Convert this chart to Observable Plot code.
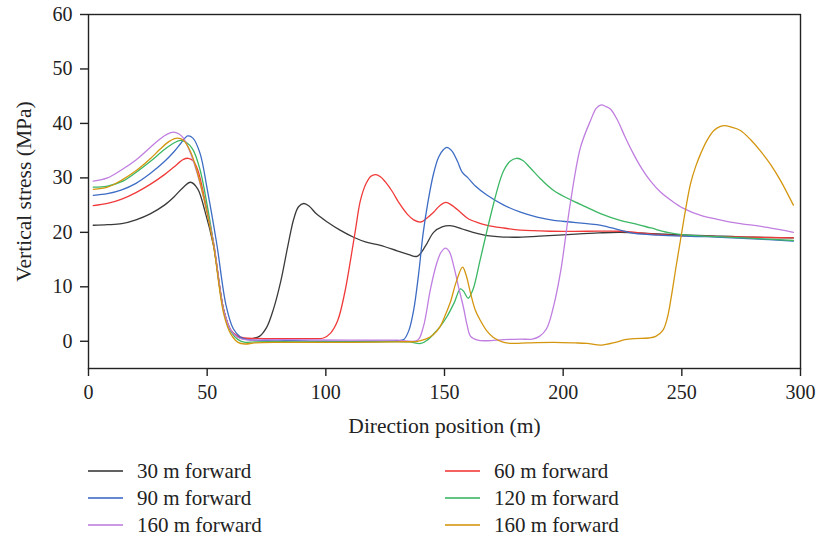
<!DOCTYPE html>
<html>
<head>
<meta charset="utf-8">
<script src="https://cdn.jsdelivr.net/npm/d3@7"></script>
<script src="https://cdn.jsdelivr.net/npm/@observablehq/plot@0.6"></script>
<style>
  body { margin: 0; background: #fff; }
  #wrap { position: relative; width: 818px; height: 540px; font-family: "Liberation Serif", serif; }
  .leg { position: absolute; display: flex; align-items: center; font-size: 21px; color: #222; height: 26px; white-space: nowrap; }
  .sw { width: 35px; height: 0; border-top: 2px solid; margin-right: 14px; }
</style>
</head>
<body>
<div id="wrap"></div>
<script>
const seriesKeys = ["s30", "s60", "s90", "s120", "s160a", "s160b"];
const seriesLabels = ["30 m forward", "60 m forward", "90 m forward", "120 m forward", "160 m forward", "160 m forward"];
const seriesColors = ["#3a3a3a", "#f03a3a", "#3d6cc4", "#3cb764", "#c07ee0", "#d4960f"];
const xTicks = [0, 50, 100, 150, 200, 250, 300];
const yTicks = [0, 10, 20, 30, 40, 50, 60];

const s30 = [[2,21.3],[8,21.4],[14,21.6],[20,22.3],[26,23.4],[32,25],[36,26.5],[40,28.3],[43,29.2],[46,28],[49,24],[52.7,17.5],[57,5.7],[60,2],[63,0.8],[66,0.4],[69,0.5],[72,0.9],[75,2.5],[78,6],[81,11],[84,17.5],[86.5,22.5],[88.5,24.7],[90.7,25.3],[93,24.8],[96,23.4],[100.6,21.9],[106,20.4],[111.7,19.1],[117,18.2],[123,17.6],[130,16.6],[135,15.9],[138.5,15.6],[142,17.5],[145.4,20],[149,21],[153,21.2],[157,20.7],[162,20],[168,19.4],[179,19.1],[190,19.3],[202,19.6],[215,19.9],[224,20],[240,19.7],[260,19.4],[280,19.1],[297,19.0]];

const s60 = [[2,24.9],[8,25.3],[14,26.1],[20,27.3],[26,28.8],[32,30.6],[36,32],[40,33.4],[42,33.6],[44,33.2],[46,31.5],[49,26],[52.7,18],[57,5.7],[60,2],[63,0.9],[66,0.6],[80,0.5],[95,0.5],[99,0.6],[102,1.5],[105,3.8],[108,9],[110.4,14.9],[112.5,20.5],[114.6,25.9],[117,29],[119,30.3],[121,30.6],[123,30.2],[125,29.3],[128,27.5],[131,25.3],[134.4,23.3],[137,22.3],[140,21.9],[142.5,22.6],[145.4,23.7],[148,24.9],[150.6,25.5],[153,25],[156.7,23.7],[159.7,22.6],[164,21.8],[168,21.3],[175,20.8],[182,20.4],[195,20.2],[210,20.2],[224,20.2],[240,19.6],[260,19.3],[280,19.1],[297,19.0]];

const s90 = [[2,26.8],[8,27.1],[14,27.8],[20,29],[26,30.8],[32,33],[36,34.8],[39,36.4],[41.8,37.7],[44,37.3],[47,34.5],[50,28],[54,18],[58,6.5],[61,2.3],[64,0.8],[67,0.3],[80,0.2],[100,0],[120,0],[130,0.1],[132.8,0.3],[135,2],[137,5.7],[139,12],[141,19.8],[143,25.5],[145.4,30.8],[147.5,33.8],[149.6,35.2],[151,35.6],[153,35],[155.5,33],[157.5,31],[159.7,30.1],[163,28.5],[168,26.8],[175,25],[182,23.7],[189,22.8],[196,22.2],[203,21.9],[210,21.6],[216,21.3],[224,20.4],[230,19.8],[240,19.5],[260,19.2],[280,18.8],[297,18.4]];

const s120 = [[2,28.3],[8,28.5],[14,29.3],[20,31],[26,33],[32,35.2],[36,36.4],[38.8,36.9],[41,36.6],[44,35.2],[47,31.5],[50,25],[52.7,18],[57,5.5],[60,1.8],[63,0.3],[66,-0.2],[70,-0.1],[90,-0.1],[120,-0.1],[135,-0.1],[140,-0.4],[143,0.3],[146,1.6],[148,2.6],[151,4.5],[154,7],[156.7,9.6],[158,9.2],[160,7.9],[162,9.5],[165,14.9],[168,20.5],[170.7,25.3],[173,29],[175,31.4],[177.5,33],[180.3,33.6],[183,33.2],[186,31.9],[191,29.6],[196,27.7],[203,26],[210,24.6],[216,23.4],[224,22.2],[230,21.6],[237,20.8],[244,20],[250,19.6],[260,19.3],[280,18.9],[297,18.5]];

const s160a = [[2,29.4],[8,30],[14,31.5],[20,33.3],[26,35.6],[30,37.1],[33,38],[35.8,38.4],[38,38.1],[40,37.3],[43,34.5],[46,30.5],[49,25.5],[52.7,18],[57,5.6],[60,2],[63,0.7],[66,0.3],[80,0.3],[110,0.2],[130,0.2],[138.6,0.2],[141,2.5],[144,9.4],[146.5,14],[148.5,16.3],[150.4,17.1],[152,16.5],[154,13.6],[156,9.8],[158,6.2],[159.5,3],[161,0.9],[164,0.2],[168,0.1],[175,0.3],[182,0.4],[187,0.4],[190,0.9],[193,2.3],[196,6.5],[199,13],[203,25.3],[207.3,35.6],[211.5,40.5],[214,42.8],[216,43.4],[218,43.1],[220,42.6],[223,40.5],[226,37.6],[229.5,34.5],[233,31.8],[237,29.3],[241,27.4],[246,25.7],[250.7,24.4],[258,23.1],[265,22.4],[272,21.8],[286,20.9],[297,20]];

const s160b = [[2,27.9],[8,28.3],[14,29.6],[20,31.3],[26,33.5],[30,35.2],[34,36.7],[37.4,37.3],[40,36.9],[43,34.8],[46,30.8],[49,25.5],[52.7,17.5],[57,5],[60,1.3],[63,-0.2],[66,-0.5],[70,-0.3],[80,-0.2],[110,-0.2],[130,-0.1],[138.6,0],[142,0.4],[145,1.1],[148,2.6],[150.5,5],[152.5,7.2],[155,11],[157.6,13.6],[159,12.3],[161,8.8],[163,5.7],[165,3.9],[168,1.8],[170.6,0.7],[175,-0.2],[179,-0.4],[185,-0.3],[196,-0.2],[205,-0.3],[210,-0.4],[216,-0.7],[222,-0.2],[226,0.3],[230,0.5],[236,0.6],[239,0.9],[242,2],[244,4.5],[245.5,8],[247.5,13.5],[249.4,18.5],[251.5,24],[253.7,29],[256,32.3],[258,34.5],[260.5,36.8],[263.5,38.7],[266,39.4],[268,39.6],[271,39.3],[274.7,38.7],[279,37],[283,35],[287.5,32.4],[291.6,29.5],[297,25]];

const seriesData = [s30, s60, s90, s120, s160a, s160b];
const rows = [];
seriesData.forEach((arr, i) => arr.forEach(([x, y]) => rows.push({s: seriesKeys[i], x, y})));

const chart = Plot.plot({
  width: 818,
  height: 445,
  marginLeft: 88,
  marginRight: 18,
  marginTop: 14,
  marginBottom: 77,
  style: {fontFamily: "Liberation Serif, serif", fontSize: "20px", color: "#222", background: "white"},
  x: {domain: [0, 300]},
  y: {domain: [-5, 60]},
  color: {domain: seriesKeys, range: seriesColors},
  marks: [
    Plot.frame({stroke: "#222", strokeWidth: 1.4}),
    Plot.axisX({ticks: xTicks, tickSize: 8, tickPadding: 8, label: null, strokeWidth: 1.4}),
    Plot.axisY({ticks: yTicks, tickSize: 8, tickPadding: 8, label: null, strokeWidth: 1.4}),
    Plot.line(rows, {x: "x", y: "y", z: "s", stroke: "s", curve: "catmull-rom", strokeWidth: 1.3}),
    Plot.text(["Direction position (m)"], {frameAnchor: "bottom", dy: 64, fontSize: 21.5, fill: "#222"}),
    Plot.text(["Vertical stress (MPa)"], {frameAnchor: "left", dx: -64, rotate: -90, textAnchor: "middle", fontSize: 21.5, fill: "#222"})
  ]
});
const wrap = document.getElementById("wrap");
wrap.appendChild(chart);

const legendPos = [[88, 458], [445, 458], [88, 485], [445, 485], [88, 512], [445, 512]];
seriesLabels.forEach((label, i) => {
  const d = document.createElement("div");
  d.className = "leg";
  d.style.left = legendPos[i][0] + "px";
  d.style.top = legendPos[i][1] + "px";
  const sw = document.createElement("span");
  sw.className = "sw";
  sw.style.borderColor = seriesColors[i];
  sw.style.opacity = 0.8;
  const t = document.createElement("span");
  t.textContent = label;
  d.appendChild(sw);
  d.appendChild(t);
  wrap.appendChild(d);
});
</script>
</body>
</html>
